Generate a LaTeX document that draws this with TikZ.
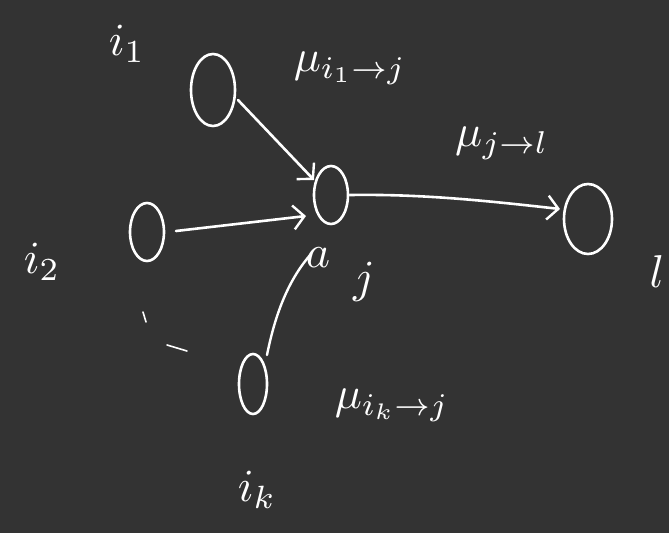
\documentclass[tikz,border=0pt]{standalone}
\usepackage{graphicx}
\usetikzlibrary{arrows.meta}
\definecolor{bg}{RGB}{51,51,51}
\newcommand{\lblbox}[1]{\scalebox{4.6}{$#1$}}
\newcommand{\msgbox}[1]{\scalebox{4.5}{$#1$}}
\begin{document}
\begin{tikzpicture}[x=1pt,y=-1pt,
  lbl/.style={text=white,inner sep=0pt},
  edge/.style={draw=white,line width=2.6pt,line cap=round,-{Straight Barb[length=11pt,width=24pt,line width=2.4pt]}},
  plain/.style={draw=white,line width=2.4pt,line cap=round}]
\fill[bg] (0,0) rectangle (669,533);
\useasboundingbox (0,0) rectangle (669,533);
% vertices
\draw[white,line width=2.6pt] (213,90) ellipse [x radius=22,y radius=36];
\coordinate (i1) at (213,90);
\draw[white,line width=2.6pt] (331,195) ellipse [x radius=17,y radius=29];
\coordinate (j) at (331,195);
\draw[white,line width=2.6pt] (588,219) ellipse [x radius=24,y radius=35];
\coordinate (l) at (588,219);
\draw[white,line width=2.6pt] (147,232) ellipse [x radius=17,y radius=29];
\coordinate (i2) at (147,232);
\draw[white,line width=2.6pt] (253,384) ellipse [x radius=14,y radius=30];
\coordinate (ik) at (253,384);
% anchor points for connectors
\coordinate (i1e) at (238,100);
\coordinate (ji1) at (314,180);
\coordinate (i2e) at (176,231);
\coordinate (ji2) at (306,216);
\coordinate (je) at (350,195);
\coordinate (lw) at (560,209);
\coordinate (ike) at (267,355);
\coordinate (jb) at (311,254);
% connectors
\draw[edge] (i1e) -- (ji1);
\draw[edge] (i2e) -- (ji2);
\draw[edge] (je) .. controls (420,194) and (480,200) .. (lw);
\draw[plain] (ike) .. controls (276,310) and (290,278) .. (jb);
% labels
\node[lbl] (Li1) at (127,44) {\lblbox{i_{1}}};
\node[lbl] (Li2) at (42,262) {\lblbox{i_2}};
\node[lbl] (Lik) at (257,490) {\lblbox{i_k}};
\node[lbl] (Ll) at (657,272) {\lblbox{l}};
\node[lbl] (La) at (318,258) {\lblbox{a}};
\node[lbl] (Lj) at (364,282) {\lblbox{j}};
\node[lbl] (M1) at (350,68) {\msgbox{\mu_{i_1\to j}}};
\node[lbl] (M2) at (502,143) {\msgbox{\mu_{j\to l}}};
\node[lbl] (M3) at (392,405) {\msgbox{\mu_{i_k\to j}}};
% ellipsis marks
\coordinate (d1a) at (143,312);
\coordinate (d1b) at (146,322);
\coordinate (d2a) at (167,345);
\coordinate (d2b) at (187,351);
\draw[plain,line width=1.6pt] (d1a) -- (d1b);
\draw[plain,line width=1.6pt] (d2a) -- (d2b);
\end{tikzpicture}
\end{document}
